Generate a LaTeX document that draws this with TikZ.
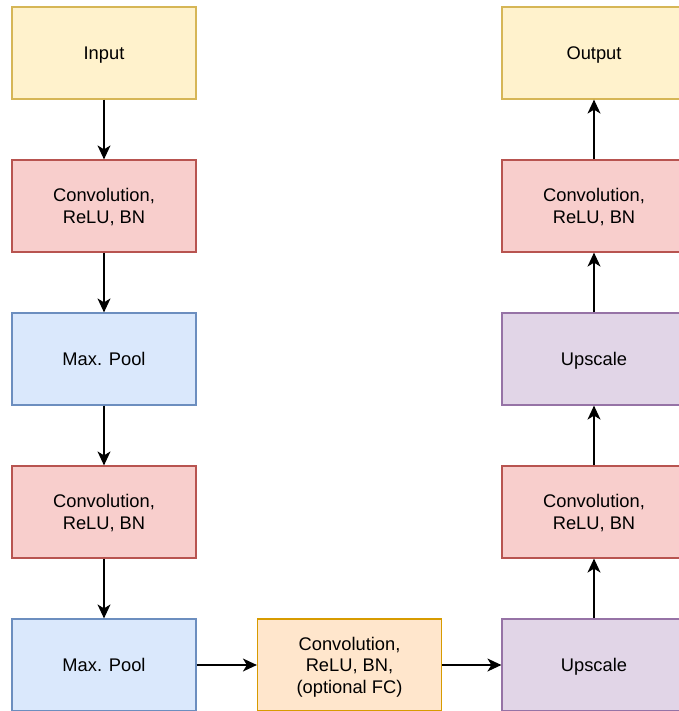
\documentclass[tikz,border=0pt]{standalone}
\usepackage{fontspec}
\usepackage{calc}
\setmainfont{Liberation Sans}
\usetikzlibrary{arrows.meta}
\definecolor{yfill}{HTML}{FFF2CC}\definecolor{ydraw}{HTML}{D6B656}
\definecolor{rfill}{HTML}{F8CECC}\definecolor{rdraw}{HTML}{B85450}
\definecolor{bfill}{HTML}{DAE8FC}\definecolor{bdraw}{HTML}{6C8EBF}
\definecolor{pfill}{HTML}{E1D5E7}\definecolor{pdraw}{HTML}{9673A6}
\definecolor{ofill}{HTML}{FFE6CC}\definecolor{odraw}{HTML}{D79B00}
\tikzset{
  box/.style={minimum width=184pt, minimum height=92pt, inner sep=0pt, align=center, line width=1.2pt,
    font=\fontsize{18.3pt}{21.7pt}\selectfont},
  ybox/.style={box, fill=yfill, draw=ydraw},
  rbox/.style={box, fill=rfill, draw=rdraw},
  bbox/.style={box, fill=bfill, draw=bdraw},
  pbox/.style={box, fill=pfill, draw=pdraw},
  obox/.style={box, fill=ofill, draw=odraw},
  conn/.style={line width=1.4pt, -{Stealth[length=14pt,width=13pt,inset=4pt]}}
}
\newcommand{\dn}[1]{\raisebox{0pt}[\height+5pt][\depth]{\begin{tabular}{@{}c@{}}#1\end{tabular}}}
\begin{document}
\begin{tikzpicture}[x=1pt,y=-1pt]
\useasboundingbox (0,0) rectangle (678,711);
\node[ybox] (in) at (104,53) {\dn{Input}};
\node[rbox] (c1) at (104,206) {\dn{Convolution,\\ReLU, BN}};
\node[bbox] (p1) at (104,359) {\dn{Max. Pool}};
\node[rbox] (c2) at (104,512) {\dn{Convolution,\\ReLU, BN}};
\node[bbox] (p2) at (104,665) {\dn{Max. Pool}};
\node[obox] (mid) at (349.5,665) {\dn{Convolution,\\ReLU, BN,\\(optional FC)}};
\node[pbox] (u1) at (594,665) {\dn{Upscale}};
\node[rbox] (c3) at (594,512) {\dn{Convolution,\\ReLU, BN}};
\node[pbox] (u2) at (594,359) {\dn{Upscale}};
\node[rbox] (c4) at (594,206) {\dn{Convolution,\\ReLU, BN}};
\node[ybox] (out) at (594,53) {\dn{Output}};
\draw[conn] (in) -- (c1);
\draw[conn] (c1) -- (p1);
\draw[conn] (p1) -- (c2);
\draw[conn] (c2) -- (p2);
\draw[conn] (p2) -- (mid);
\draw[conn] (mid) -- (u1);
\draw[conn] (u1) -- (c3);
\draw[conn] (c3) -- (u2);
\draw[conn] (u2) -- (c4);
\draw[conn] (c4) -- (out);
\end{tikzpicture}
\end{document}
